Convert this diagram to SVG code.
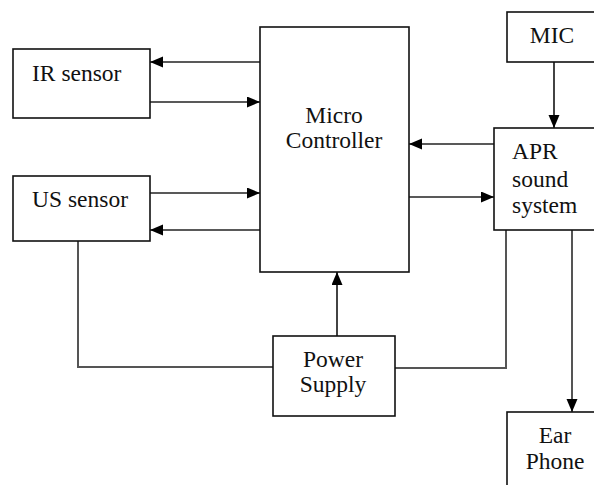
<svg xmlns="http://www.w3.org/2000/svg" width="594" height="485" viewBox="0 0 594 485">
<defs>
<style>
.box{fill:#fff;stroke:#111;stroke-width:1.6}
.t{font-size:23.5px;fill:#111}
.c{text-anchor:middle}
.ln{fill:none;stroke:#222;stroke-width:1.7}
.gl{fill:none;stroke:#555;stroke-width:2}
</style>
<marker id="ah" markerUnits="userSpaceOnUse" markerWidth="14" markerHeight="12" refX="13" refY="5.5" orient="auto">
<path d="M0,0 L13,5.5 L0,11 Z" fill="#000"/>
</marker>
</defs>
<rect width="594" height="485" fill="#fff"/>
<g id="connectors">
<line class="ln" x1="260" y1="62" x2="150" y2="62" marker-end="url(#ah)"/>
<line class="ln" x1="150" y1="102" x2="260" y2="102" marker-end="url(#ah)"/>
<line class="ln" x1="150" y1="193" x2="260" y2="193" marker-end="url(#ah)"/>
<line class="ln" x1="260" y1="230" x2="150" y2="230" marker-end="url(#ah)"/>
<line class="ln" x1="494" y1="144" x2="409" y2="144" marker-end="url(#ah)"/>
<line class="ln" x1="409" y1="197" x2="494" y2="197" marker-end="url(#ah)"/>
<line class="ln" x1="554" y1="62" x2="554" y2="128" marker-end="url(#ah)"/>
<line class="ln" x1="337" y1="336" x2="337" y2="272" marker-end="url(#ah)"/>
<line class="gl" x1="572" y1="230" x2="572" y2="412" marker-end="url(#ah)"/>
<polyline class="gl" points="78,241 78,367 273,367"/>
<polyline class="gl" points="395,368 506,368 506,230"/>
</g>
<g font-family="Liberation Serif, Times New Roman, serif">
<g id="ir-sensor">
<rect class="box" x="13" y="49" width="137" height="69"/>
<text class="t" x="32" y="81">IR sensor</text>
</g>
<g id="us-sensor">
<rect class="box" x="13" y="176" width="137" height="65"/>
<text class="t" x="32" y="207">US sensor</text>
</g>
<g id="micro-controller">
<rect class="box" x="260" y="27" width="149" height="245"/>
<text class="t c" x="334" y="123">Micro</text>
<text class="t c" x="334" y="148">Controller</text>
</g>
<g id="mic">
<rect class="box" x="507" y="12" width="95" height="50"/>
<text class="t c" x="552" y="43">MIC</text>
</g>
<g id="apr-sound-system">
<rect class="box" x="494" y="128" width="108" height="102"/>
<text class="t" x="512" y="159">APR</text>
<text class="t" x="512" y="187">sound</text>
<text class="t" x="512" y="213">system</text>
</g>
<g id="power-supply">
<rect class="box" x="273" y="336" width="122" height="80"/>
<text class="t c" x="333" y="367">Power</text>
<text class="t c" x="333" y="392">Supply</text>
</g>
<g id="ear-phone">
<rect class="box" x="507" y="412" width="95" height="80"/>
<text class="t c" x="555" y="443">Ear</text>
<text class="t c" x="555" y="469">Phone</text>
</g>
</g>
</svg>
